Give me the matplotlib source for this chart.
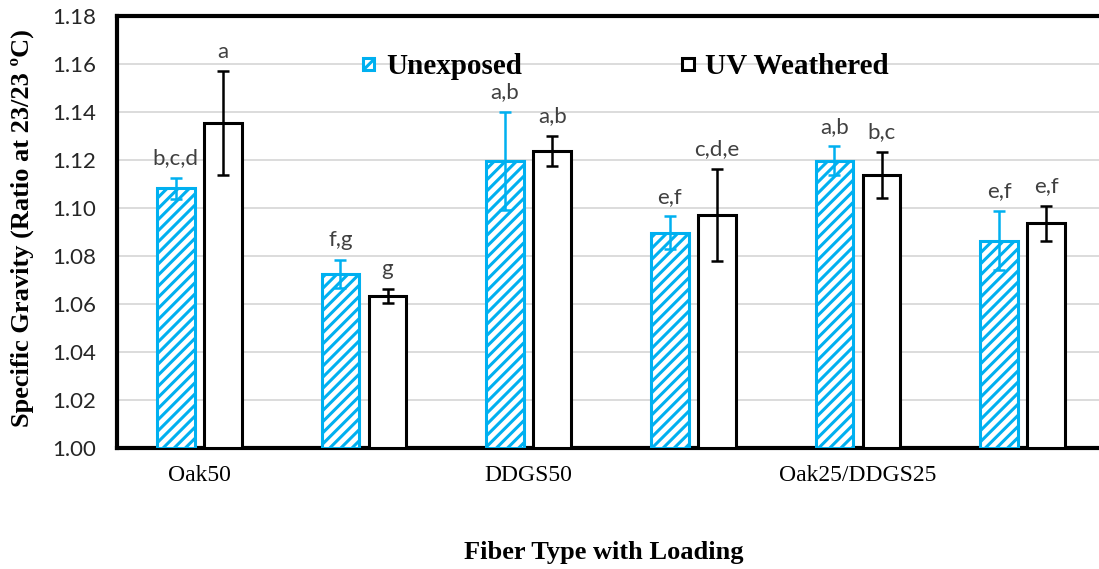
import numpy as np
import matplotlib
matplotlib.use("Agg")
import matplotlib.pyplot as plt

# Specific gravity of composites, unexposed vs UV weathered
tick_labels = ["Oak50", "", "DDGS50", "", "Oak25/DDGS25", ""]
unexposed = [1.1082, 1.0725, 1.1197, 1.0897, 1.1197, 1.0864]
unexposed_err = [0.0045, 0.0059, 0.0205, 0.0068, 0.0060, 0.0124]
weathered = [1.1353, 1.0633, 1.1239, 1.0971, 1.1138, 1.0936]
weathered_err = [0.0217, 0.0030, 0.0063, 0.0192, 0.0097, 0.0074]
unexposed_letters = ["b,c,d", "f,g", "a,b", "e,f", "a,b", "e,f"]
weathered_letters = ["a", "g", "a,b", "c,d,e", "b,c", "e,f"]

blue = "#00B0F0"
plt.rcParams['hatch.linewidth'] = 2.2

fig = plt.figure(figsize=(10.99, 5.69), dpi=100)
ax = fig.add_axes([117 / 1099, 121 / 569, 988 / 1099, 432 / 569])

x = np.arange(len(tick_labels))
w = 0.23
off = 0.143

ax.bar(x - off, np.array(unexposed) - 1.0, w, bottom=1.0, color="white",
       edgecolor=blue, hatch="///", linewidth=2.2, label="Unexposed", zorder=3)
ax.bar(x + off, np.array(weathered) - 1.0, w, bottom=1.0, color="white",
       edgecolor="black", linewidth=2.2, label="UV Weathered", zorder=3)
ax.errorbar(x - off, unexposed, yerr=unexposed_err, fmt="none", ecolor=blue,
            elinewidth=1.8, capsize=4.2, capthick=1.8, zorder=4)
ax.errorbar(x + off, weathered, yerr=weathered_err, fmt="none", ecolor="black",
            elinewidth=1.8, capsize=4.2, capthick=1.8, zorder=4)

# significance letters above the error bars
for xi, v, e, s in zip(x - off, unexposed, unexposed_err, unexposed_letters):
    ax.annotate(s, (xi, v + e), xytext=(0, 14), textcoords="offset points",
                ha="center", va="center", fontsize=16, color="#404040",
                family="Lato")
for xi, v, e, s in zip(x + off, weathered, weathered_err, weathered_letters):
    ax.annotate(s, (xi, v + e), xytext=(0, 14), textcoords="offset points",
                ha="center", va="center", fontsize=16, color="#404040",
                family="Lato")

ax.set_xlim(-0.5, 5.5)
ax.set_ylim(1.0, 1.18)
ax.set_yticks(np.arange(1.0, 1.1801, 0.02))
ax.set_yticklabels([f"{t:.2f}" for t in np.arange(1.0, 1.1801, 0.02)],
                   family="Lato", fontsize=16, color="#262626")
ax.set_xticks(x)
ax.set_xticklabels(tick_labels, family="Liberation Serif", fontsize=17)
ax.tick_params(axis="both", length=0)
ax.tick_params(axis="y", pad=15)
ax.tick_params(axis="x", pad=12)

ax.grid(axis="y", color="#D9D9D9", linewidth=1.3, zorder=0)
ax.set_axisbelow(True)
for side in ["left", "top", "bottom", "right"]:
    ax.spines[side].set_linewidth(3)
    ax.spines[side].set_color("black")

ax.set_ylabel("Specific Gravity (Ratio at 23/23 ºC)", family="Liberation Serif",
              fontweight="bold", fontsize=19)
ax.yaxis.set_label_coords(-0.096, 0.51)
ax.yaxis.label.set_va("center")
ax.set_xlabel("Fiber Type with Loading", family="Liberation Serif",
              fontweight="bold", fontsize=19)
ax.xaxis.set_label_coords(0.493, -0.243)
ax.xaxis.label.set_va("center")

ax.legend(loc="center", bbox_to_anchor=(0.515, 0.882), ncol=2, frameon=False,
          prop={"family": "Liberation Serif", "weight": "bold", "size": 21},
          handlelength=0.4, handleheight=0.3, handletextpad=0.4,
          columnspacing=5.5, borderpad=0.2)

fig.savefig("out.png", dpi=100)
